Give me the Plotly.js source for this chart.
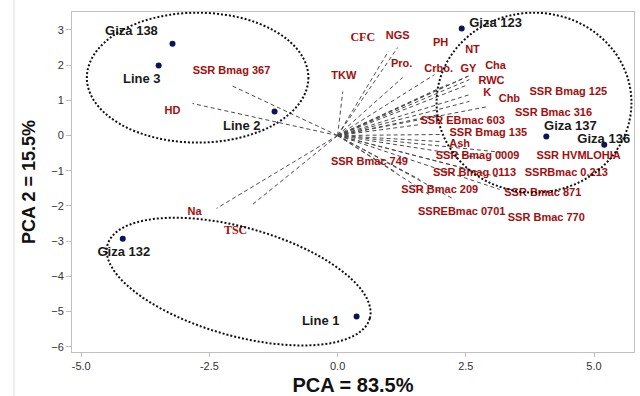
<!DOCTYPE html>
<html><head><meta charset="utf-8">
<script src="https://cdn.plot.ly/plotly-3.0.1.min.js"></script>
<style>html,body{margin:0;padding:0;background:#fff}#chart{width:640px;height:396px}</style>
</head><body><div id="chart"></div>
<script>
// Genotype scores
const genotypes = ['Giza 138','Line 3','Line 2','Giza 123','Giza 137','Giza 136','Giza 132','Line 1'];
const genoX = [-3.22, -3.49, -1.23, 2.42, 4.07, 5.20, -4.19, 0.37];
const genoY = [2.61, 1.99, 0.68, 3.04, -0.03, -0.26, -2.93, -5.14];
const genoLabelX = [-4.02, -3.82, -1.87, 3.08, 4.54, 5.19, -4.17, -0.33];
const genoLabelY = [2.95, 1.59, 0.26, 3.18, 0.26, -0.11, -3.32, -5.28];

// Trait / marker loadings (vector ends) and label positions
const traits = ['SSR Bmag 367','HD','TKW','CFC','NGS','Pro.','PH','NT','Crbo.','GY','Cha','RWC','K','Chb',
  'SSR Bmag 125','SSR Bmac 316','SSR EBmac 603','SSR Bmag 135','Ash','SSR Bmag 0009','SSR HVMLOHIA',
  'SSR Bmac 749','SSR Bmag 0113','SSRBmac 0.213','SSR Bmac 209','SSR Bmac 871','SSREBmac 0701','SSR Bmac 770','Na','TSC'];
const traitX = [-2.07,-2.83,0.10,0.99,1.17,1.27,1.89,2.53,2.14,2.57,2.57,2.50,2.57,2.92,
  2.57,1.99,1.60,2.05,1.99,3.22,2.77,1.11,2.71,3.16,1.60,3.16,1.79,2.28,-2.36,-1.66];
const traitY = [1.42,0.91,1.25,2.39,2.50,1.65,1.73,1.68,1.45,1.70,1.59,1.42,1.16,0.82,
  0.97,0.60,0.31,0.03,-0.17,-0.48,-0.63,-1.02,-1.02,-1.19,-1.25,-1.53,-1.68,-1.82,-2.07,-1.96];
const traitLabelX = [-2.07,-3.22,0.12,0.49,1.17,1.25,2.01,2.63,1.97,2.55,3.08,3.00,2.92,3.35,
  4.50,4.21,2.44,2.94,2.38,2.73,4.70,0.62,2.67,4.46,1.99,4.00,2.42,4.07,-2.79,-1.99];
const traitLabelY = [1.82,0.68,1.68,2.76,2.81,2.02,2.61,2.41,1.88,1.88,1.97,1.55,1.19,1.02,
  1.22,0.63,0.40,0.06,-0.26,-0.60,-0.60,-0.77,-1.08,-1.08,-1.56,-1.65,-2.19,-2.36,-2.19,-2.70];
const serifTraits = ['CFC','TSC'];

const xTicks = [-5, -2.5, 0, 2.5, 5];
const xTickText = ['-5.0','-2.5','0.0','2.5','5.0'];
const yTicks = [3,2,1,0,-1,-2,-3,-4,-5,-6];

// vectors
const vx = [], vy = [];
traits.forEach((t,i) => { vx.push(0, traitX[i], null); vy.push(0, traitY[i], null); });

const sansIdx = traits.map((t,i)=>i).filter(i => !serifTraits.includes(traits[i]));
const serifIdx = traits.map((t,i)=>i).filter(i => serifTraits.includes(traits[i]));

const red = '#a10e0e';
const traces = [
  {x: vx, y: vy, mode: 'lines', line: {color: '#4a4a4a', width: 1, dash: '4px,3px'}, hoverinfo: 'skip', showlegend: false},
  {x: genoX, y: genoY, mode: 'markers', marker: {color: '#0a1458', size: 6}, showlegend: false},
  {x: genoLabelX, y: genoLabelY, mode: 'text', text: genotypes,
   textfont: {family: 'Liberation Sans, Arial, sans-serif', size: 13, color: '#1a1a1a', weight: 'bold'}, showlegend: false},
  {x: sansIdx.map(i=>traitLabelX[i]), y: sansIdx.map(i=>traitLabelY[i]), mode: 'text', text: sansIdx.map(i=>traits[i]),
   textfont: {family: 'Liberation Sans, Arial, sans-serif', size: 11, color: red, weight: 'bold'}, showlegend: false},
  {x: serifIdx.map(i=>traitLabelX[i]), y: serifIdx.map(i=>traitLabelY[i]), mode: 'text', text: serifIdx.map(i=>traits[i]),
   textfont: {family: 'Liberation Serif, Times New Roman, serif', size: 12, color: red, weight: 'bold'}, showlegend: false}
];

// tilted ellipse (lower group)
function tiltedEllipsePath(cx, cy, a, b, thetaDeg, pxX, pxY) {
  const th = thetaDeg * Math.PI / 180;
  let d = '';
  for (let k = 0; k <= 72; k++) {
    const t = k / 72 * 2 * Math.PI;
    const dx = a*Math.cos(th)*Math.cos(t) - b*Math.sin(th)*Math.sin(t);
    const dy = a*Math.sin(th)*Math.cos(t) + b*Math.cos(th)*Math.sin(t);
    const X = cx + dx/pxX, Y = cy - dy/pxY;
    d += (k === 0 ? 'M' : 'L') + X.toFixed(4) + ',' + Y.toFixed(4);
  }
  return d + 'Z';
}
const dotLine = {color: '#111', width: 2, dash: '2px,2px'};
const shapes = [
  {type: 'circle', xref: 'x', yref: 'y', x0: -4.89, x1: -0.57, y0: -0.20, y1: 3.49, line: dotLine},
  {type: 'circle', xref: 'x', yref: 'y', x0: 1.93, x1: 5.73, y0: -1.62, y1: 3.49, line: dotLine},
  {type: 'path', xref: 'x', yref: 'y', path: tiltedEllipsePath(-1.93, -4.15, 136.3, 54.2, 15.7, 51.3, 35.2), line: dotLine},
  {type: 'line', xref: 'paper', yref: 'paper', x0: -0.1032, x1: -0.1032, y0: -0.2, y1: 1.2, line: {color: '#dddddd', width: 1}}
];

const layout = {
  width: 640, height: 396,
  margin: {l: 72, r: 6, t: 12, b: 44},
  paper_bgcolor: '#fff', plot_bgcolor: '#fff',
  showlegend: false,
  xaxis: {range: [-5.18, 5.78], tickvals: xTicks, ticktext: xTickText, showgrid: false, zeroline: false,
    showline: true, mirror: true, linecolor: '#c0c0c0', linewidth: 1, ticks: 'outside', ticklen: 4, tickcolor: '#c0c0c0',
    tickfont: {family: 'Liberation Sans, Arial, sans-serif', size: 11, color: '#333'},
    title: {text: 'PCA = 83.5%', font: {family: 'Liberation Sans, Arial, sans-serif', size: 20, color: '#111', weight: 'bold'}, standoff: 6}},
  yaxis: {range: [-6.15, 3.51], tickvals: yTicks, showgrid: false, zeroline: false,
    showline: true, mirror: true, linecolor: '#c0c0c0', linewidth: 1, ticks: 'outside', ticklen: 5, tickcolor: '#c0c0c0',
    tickfont: {family: 'Liberation Sans, Arial, sans-serif', size: 11, color: '#333'},
    title: {text: 'PCA 2 = 15.5%', font: {family: 'Liberation Sans, Arial, sans-serif', size: 18, color: '#111', weight: 'bold'}, standoff: 10}},
  shapes: shapes
};

Plotly.newPlot('chart', traces, layout, {displayModeBar: false, staticPlot: true});
</script>
</body></html>
